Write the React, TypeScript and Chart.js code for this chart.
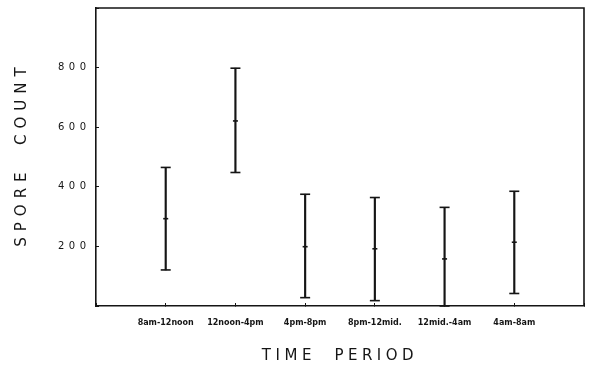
import React, { useEffect, useRef } from "react";
import { Chart, registerables } from "chart.js";

Chart.register(...registerables);

const categories = ["8am-12noon", "12noon-4pm", "4pm-8pm", "8pm-12mid.", "12mid.-4am", "4am-8am"];
const means = [293, 621, 199, 192, 158, 214];
const upper = [465, 798, 375, 364, 331, 385];
const lower = [121, 448, 28, 18, 0, 42];
const yTicks = [200, 400, 600, 800];
const xTitle = "TIME  PERIOD";
const yTitle = "SPORE  COUNT";

const INK = "#151515";

function wrap(scale: any, method: string, spacing: string, dy = 0) {
  const key = "__wrapped_" + method;
  if (scale[key]) return;
  const orig = scale[method].bind(scale);
  scale[method] = (...args: any[]) => {
    const ctx = scale.ctx as CanvasRenderingContext2D;
    ctx.save();
    (ctx as any).letterSpacing = spacing;
    if (dy) ctx.translate(0, dy);
    orig(...args);
    ctx.restore();
  };
  scale[key] = true;
}

const spacingPlugin = {
  id: "spacingPlugin",
  beforeDraw(chart: any) {
    const x = chart.scales.x;
    const y = chart.scales.y;
    wrap(x, "drawLabels", "0px");
    wrap(x, "drawTitle", "4.5px");
    wrap(y, "drawLabels", "4.5px");
    wrap(y, "drawTitle", "6px", -3);
  },
};

const framePlugin = {
  id: "framePlugin",
  afterDatasetsDraw(chart: any) {
    const { ctx, chartArea } = chart;
    ctx.save();
    ctx.strokeStyle = INK;
    ctx.lineWidth = 1.6;
    ctx.beginPath();
    ctx.moveTo(chartArea.left, chartArea.top);
    ctx.lineTo(chartArea.right, chartArea.top);
    ctx.lineTo(chartArea.right, chartArea.bottom);
    ctx.stroke();
    ctx.restore();
  },
};

function zeroPadding(s: any) {
  s.paddingLeft = 0;
  s.paddingRight = 0;
  s.paddingTop = 0;
  s.paddingBottom = 0;
}

export default function App() {
  const ref = useRef<HTMLCanvasElement | null>(null);

  useEffect(() => {
    if (!ref.current) return;
    const labels = ["", ...categories, ""];
    const pointDs = (vals: number[], radius: number) => ({
      type: "line" as const,
      data: categories.map((c, i) => ({ x: c, y: vals[i] })) as any,
      showLine: false,
      pointStyle: "line" as const,
      pointRadius: radius,
      pointBorderWidth: 1.6,
      pointBorderColor: INK,
      pointBackgroundColor: INK,
      clip: false as any,
    });
    const chart = new Chart(ref.current, {
      type: "bar",
      data: {
        labels,
        datasets: [
          {
            type: "bar",
            data: categories.map((c, i) => ({ x: c, y: [lower[i], upper[i]] })) as any,
            backgroundColor: INK,
            borderWidth: 0,
            barThickness: 1.5,
          },
          pointDs(upper, 5),
          pointDs(lower, 5),
          pointDs(means, 2.5),
        ],
      },
      options: {
        responsive: false,
        animation: false,
        events: [],
        layout: { autoPadding: false, padding: { top: 8, right: 5, left: 0, bottom: 0 } },
        plugins: { legend: { display: false }, tooltip: { enabled: false } },
        scales: {
          x: {
            type: "category",
            offset: false,
            grid: {
              offset: false,
              drawOnChartArea: false,
              drawTicks: true,
              tickLength: -3,
              color: INK,
              lineWidth: 1,
            },
            border: { display: true, color: INK, width: 1.6 },
            ticks: {
              autoSkip: false,
              maxRotation: 0,
              minRotation: 0,
              padding: 15,
              color: INK,
              font: { family: "'DejaVu Sans'", size: 8, weight: "bold" },
            },
            title: {
              display: true,
              text: xTitle,
              color: INK,
              font: { family: "'DejaVu Sans'", size: 15, weight: "normal" },
              padding: { top: 0, bottom: 1 },
            },
            afterFit: (s: any) => {
              s.height = 60;
              zeroPadding(s);
            },
          },
          y: {
            type: "linear",
            min: 0,
            max: 1000,
            afterBuildTicks: (s: any) => {
              s.ticks = [0, ...yTicks, 1000].map((v) => ({ value: v }));
            },
            grid: {
              drawOnChartArea: false,
              drawTicks: true,
              tickLength: -3,
              color: INK,
              lineWidth: 1,
            },
            border: { display: true, color: INK, width: 1.6 },
            ticks: {
              padding: 8.5,
              color: INK,
              font: { family: "'DejaVu Sans'", size: 10, weight: "normal" },
              callback: (v: any) => (yTicks.includes(Number(v)) ? String(v) : ""),
            },
            title: {
              display: true,
              text: yTitle,
              color: INK,
              font: { family: "'DejaVu Sans'", size: 15, weight: "normal" },
              padding: { top: 13, bottom: 0 },
            },
            afterFit: (s: any) => {
              s.width = 96;
              zeroPadding(s);
            },
          },
        },
      },
      plugins: [spacingPlugin, framePlugin],
    });
    return () => chart.destroy();
  }, []);

  return (
    <div style={{ position: "absolute", left: 0, top: 0, width: 589, height: 366, background: "#fff" }}>
      <canvas ref={ref} width={589} height={366} style={{ display: "block" }} />
    </div>
  );
}
